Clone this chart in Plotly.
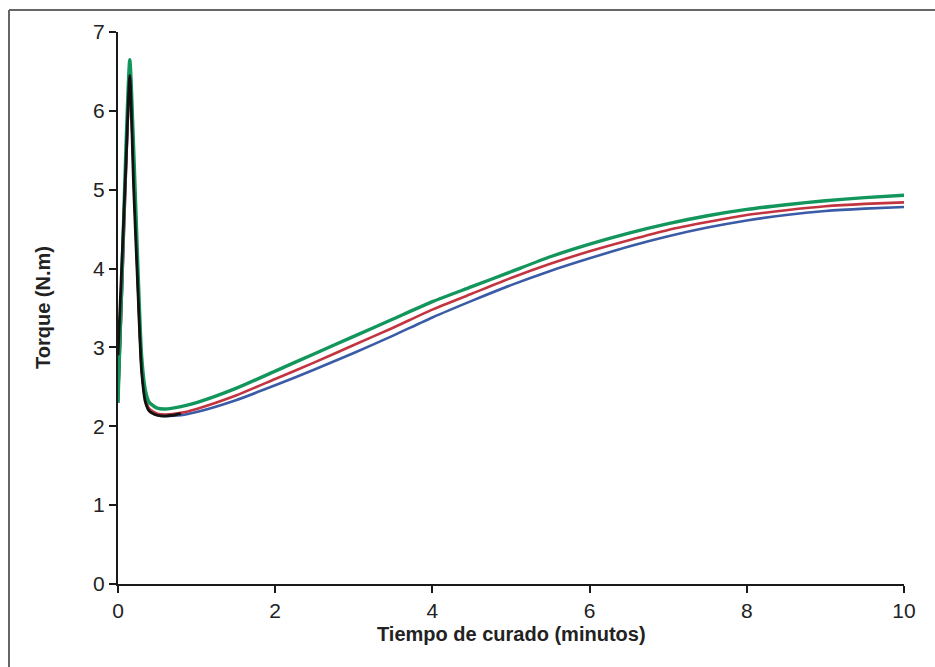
import plotly.graph_objects as go

time = [0, 0.05, 0.1, 0.15, 0.2, 0.25, 0.3, 0.35, 0.4, 0.5, 0.6, 0.8, 1.0, 1.5, 2.0, 2.5,
        3.0, 3.5, 4.0, 4.5, 5.0, 5.5, 6.0, 6.5, 7.0, 7.5, 8.0, 8.5, 9.0, 9.5, 10.0]
torque_green = [2.30, 3.9, 5.5, 6.65, 5.5, 4.1, 2.9, 2.45, 2.30, 2.23, 2.22, 2.25, 2.30, 2.48, 2.70, 2.92,
                3.14, 3.36, 3.58, 3.77, 3.96, 4.15, 4.31, 4.45, 4.57, 4.67, 4.75, 4.81, 4.86, 4.90, 4.93]
torque_red = [2.30, 3.7, 5.2, 6.40, 5.2, 3.9, 2.75, 2.35, 2.22, 2.16, 2.15, 2.17, 2.22, 2.39, 2.60, 2.81,
              3.03, 3.25, 3.48, 3.68, 3.88, 4.06, 4.22, 4.36, 4.49, 4.59, 4.68, 4.74, 4.79, 4.82, 4.84]
torque_blue = [2.30, 3.7, 5.2, 6.40, 5.2, 3.9, 2.75, 2.33, 2.20, 2.14, 2.13, 2.14, 2.18, 2.33, 2.52, 2.72,
               2.93, 3.15, 3.38, 3.59, 3.79, 3.97, 4.13, 4.28, 4.41, 4.52, 4.61, 4.68, 4.73, 4.76, 4.78]
time_black = [0, 0.05, 0.1, 0.15, 0.2, 0.25, 0.3, 0.35, 0.4, 0.5, 0.6, 0.7, 0.8]
torque_black = [2.9, 4.1, 5.3, 6.45, 5.0, 3.8, 2.7, 2.30, 2.19, 2.14, 2.13, 2.14, 2.16]

x_ticks = [0, 2, 4, 6, 8, 10]
y_ticks = [0, 1, 2, 3, 4, 5, 6, 7]

FONT = "Liberation Sans, Arial, sans-serif"

fig = go.Figure()
for y, c, w in [(torque_blue, "#3a5ca6", 2.6), (torque_red, "#c23540", 2.6), (torque_green, "#13965c", 3.4)]:
    fig.add_trace(go.Scatter(x=time, y=y, mode="lines",
                             line=dict(color=c, width=w, shape="spline", smoothing=0.6),
                             showlegend=False))
fig.add_trace(go.Scatter(x=time_black, y=torque_black, mode="lines",
                         line=dict(color="#111111", width=2.8, shape="spline", smoothing=0.6),
                         showlegend=False))

axis_common = dict(showline=True, linecolor="#1a1a1a", linewidth=2, ticks="outside",
                   ticklen=7, tickwidth=2, tickcolor="#1a1a1a", showgrid=False, zeroline=False,
                   tickfont=dict(family=FONT, size=21, color="#222222"))
fig.update_xaxes(range=[0, 10], tickvals=x_ticks, **axis_common)
fig.update_yaxes(range=[0, 7], tickvals=y_ticks, **axis_common)

W, H = 935, 667
L, R, T, B = 118, 31, 32, 83
pw, ph = W - L - R, H - T - B

def px(xp):
    return (xp - L) / pw

def py(yp):
    return (H - B - yp) / ph

fig.add_annotation(x=0.5, y=py(634), xref="paper", yref="paper", showarrow=False,
                   xanchor="center", yanchor="middle",
                   text="<b>Tiempo de curado (minutos)</b>",
                   font=dict(family=FONT, size=20, color="#222222"))
fig.add_annotation(x=px(43), y=py(308), xref="paper", yref="paper", showarrow=False,
                   xanchor="center", yanchor="middle",
                   text="<b>Torque (N.m)</b>", textangle=-90,
                   font=dict(family=FONT, size=20, color="#222222"))

fig.add_shape(type="line", xref="paper", yref="paper", x0=px(9), x1=px(9), y0=py(H + 5), y1=py(10),
              line=dict(color="#666666", width=2))
fig.add_shape(type="line", xref="paper", yref="paper", x0=px(9), x1=px(W + 5), y0=py(10), y1=py(10),
              line=dict(color="#666666", width=2))

fig.update_layout(width=W, height=H, margin=dict(l=L, r=R, t=T, b=B),
                  plot_bgcolor="white", paper_bgcolor="white")

fig.write_html("out.html")
